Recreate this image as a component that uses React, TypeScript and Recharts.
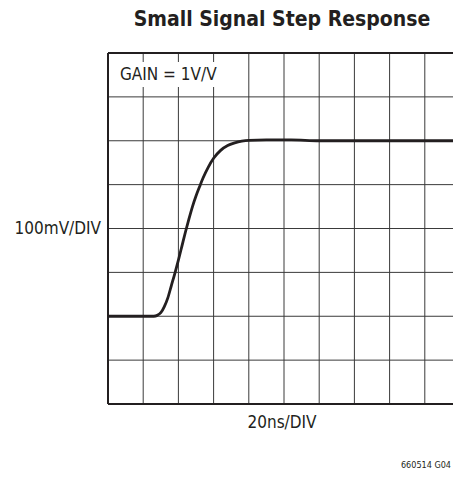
import React from 'react';
import { LineChart, Line, XAxis, YAxis, CartesianGrid, ReferenceLine } from 'recharts';

// time in divisions (20ns/DIV), output in divisions (100mV/DIV)
const timeDiv = [0, 1.0, 1.3, 1.4, 1.5, 1.6, 1.7, 1.8, 1.9, 2.0, 2.1, 2.2, 2.3, 2.4, 2.5, 2.6, 2.7, 2.85, 3.0, 3.2, 3.4, 3.6, 3.8, 4.0, 4.5, 5.2, 6.0, 8.0, 10.0];
const outputDiv = [2, 2, 2, 2.02, 2.08, 2.22, 2.42, 2.7, 2.98, 3.28, 3.6, 3.92, 4.22, 4.5, 4.74, 4.95, 5.15, 5.4, 5.6, 5.78, 5.89, 5.95, 5.99, 6.01, 6.02, 6.02, 6.0, 6.0, 6.0];
const xTicks = [0, 1, 2, 3, 4, 5, 6, 7, 8, 9, 10];
const yTicks = [0, 1, 2, 3, 4, 5, 6, 7, 8];

const data = timeDiv.map((t, i) => ({ t, v: outputDiv[i] }));

const FONT = '"Liberation Sans Narrow", "DejaVu Sans Condensed", "Roboto", sans-serif';

export default function App() {
  return (
    <div
      style={{
        position: 'absolute',
        left: 0,
        top: 0,
        width: 453,
        height: 485,
        overflow: 'hidden',
        background: '#fff',
        fontFamily: FONT,
        color: '#231f20',
      }}
    >
      <div
        style={{
          position: 'absolute',
          left: 0,
          top: 7,
          width: 564,
          textAlign: 'center',
          fontSize: 21,
          fontWeight: 'bold',
        }}
      >
        Small Signal Step Response
      </div>

      <div style={{ position: 'absolute', left: 0, top: 0 }}>
        <LineChart width={480} height={485} data={data} margin={{ top: 53, right: 20, bottom: 81, left: 108 }}>
          <CartesianGrid stroke="#3a3a3a" strokeWidth={1} />
          <XAxis dataKey="t" type="number" domain={[0, 10]} ticks={xTicks} hide />
          <YAxis type="number" domain={[0, 8]} ticks={yTicks} hide />
          <ReferenceLine x={0} stroke="#231f20" strokeWidth={2} />
          <ReferenceLine y={0} stroke="#231f20" strokeWidth={2} />
          <ReferenceLine y={8} stroke="#231f20" strokeWidth={2} />
          <Line
            type="monotone"
            dataKey="v"
            stroke="#231f20"
            strokeWidth={2.8}
            dot={false}
            isAnimationActive={false}
          />
        </LineChart>
      </div>

      <div
        style={{
          position: 'absolute',
          left: 109,
          top: 62,
          width: 110,
          height: 25,
          background: '#fff',
          fontSize: 17,
          lineHeight: '25px',
          paddingLeft: 11,
          boxSizing: 'border-box',
        }}
      >
        GAIN = 1V/V
      </div>

      <div style={{ position: 'absolute', left: 0, width: 101, top: 218, textAlign: 'right', fontSize: 17 }}>
        100mV/DIV
      </div>

      <div style={{ position: 'absolute', left: 182, width: 200, top: 412, textAlign: 'center', fontSize: 17 }}>
        20ns/DIV
      </div>

      <div style={{ position: 'absolute', right: 2, top: 460, fontSize: 9, whiteSpace: 'nowrap' }}>
        660514 G04
      </div>
    </div>
  );
}
